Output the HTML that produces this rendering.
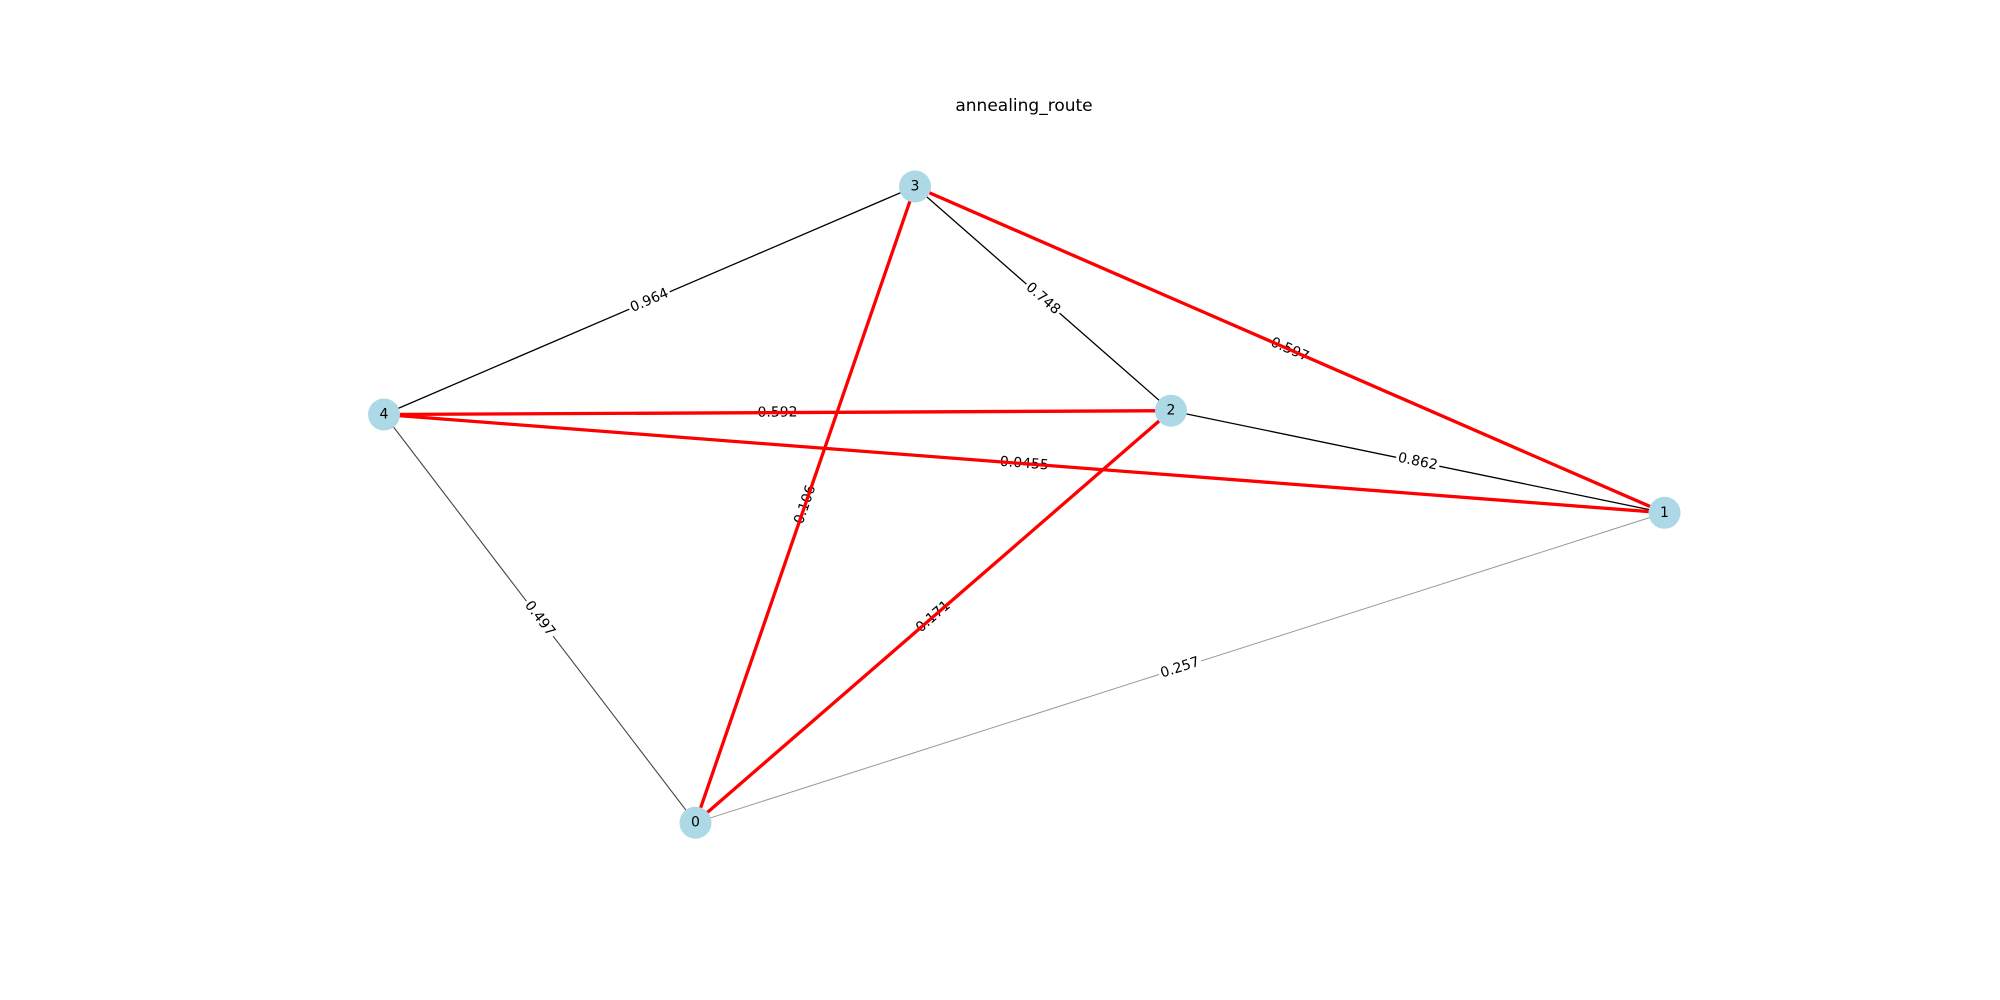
<!DOCTYPE html>
<html><head><meta charset="utf-8"><style>
html,body{margin:0;padding:0;background:#fff;}
svg{display:block;font-family:"DejaVu Sans","Liberation Sans",sans-serif;}
.l{font-size:14px;fill:#000;text-anchor:middle;dominant-baseline:central;}
</style></head><body>
<svg width="2000" height="1000" viewBox="0 0 2000 1000">
<rect width="2000" height="1000" fill="#fff"/>
<text x="1024" y="106" font-size="17" text-anchor="middle" dominant-baseline="central">annealing_route</text>
<!-- thin edges -->
<line x1="915" y1="186.5" x2="384" y2="414.5" stroke="#000" stroke-width="1.3"/>
<line x1="915" y1="186.5" x2="1171" y2="410.7" stroke="#000" stroke-width="1.3"/>
<line x1="1171" y1="410.7" x2="1664.5" y2="512.8" stroke="#000" stroke-width="1.3"/>
<line x1="384" y1="414.5" x2="695.5" y2="822.7" stroke="#444" stroke-width="1.1"/>
<line x1="695.5" y1="822.7" x2="1664.5" y2="512.8" stroke="#999" stroke-width="1"/>
<!-- labels with bg for thin edges -->
<g>
<g transform="translate(649.5,300.5) rotate(-23.2)"><rect x="-22" y="-9" width="44" height="18" fill="#fff"/><text class="l">0.964</text></g>
<g transform="translate(1043,298.6) rotate(41.2)"><rect x="-22" y="-9" width="44" height="18" fill="#fff"/><text class="l">0.748</text></g>
<g transform="translate(1417.75,461.75) rotate(11.69)"><rect x="-22" y="-9" width="44" height="18" fill="#fff"/><text class="l">0.862</text></g>
<g transform="translate(539.75,618.6) rotate(52.65)"><rect x="-22" y="-9" width="44" height="18" fill="#fff"/><text class="l">0.497</text></g>
<g transform="translate(1180,667.75) rotate(-17.74)"><rect x="-22" y="-9" width="44" height="18" fill="#fff"/><text class="l">0.257</text></g>
<g transform="translate(1289.75,349.65) rotate(23.5)"><rect x="-22" y="-9" width="44" height="18" fill="#fff"/><text class="l">0.597</text></g>
<g transform="translate(777.5,412.6) rotate(-0.28)"><rect x="-22" y="-9" width="44" height="18" fill="#fff"/><text class="l">0.592</text></g>
<g transform="translate(1024.25,463.65) rotate(4.39)"><rect x="-26" y="-9" width="52" height="18" fill="#fff"/><text class="l">0.0455</text></g>
<g transform="translate(805.25,504.6) rotate(-70.9)"><rect x="-22" y="-9" width="44" height="18" fill="#fff"/><text class="l">0.106</text></g>
<g transform="translate(933.25,616.7) rotate(-40.9)"><rect x="-22" y="-9" width="44" height="18" fill="#fff"/><text class="l">0.171</text></g>
</g>
<!-- red edges -->
<g stroke="#ff0000" stroke-width="3.3">
<line x1="915" y1="186.5" x2="1664.5" y2="512.8"/>
<line x1="384" y1="414.5" x2="1171" y2="410.7"/>
<line x1="384" y1="414.5" x2="1664.5" y2="512.8"/>
<line x1="915" y1="186.5" x2="695.5" y2="822.7"/>
<line x1="1171" y1="410.7" x2="695.5" y2="822.7"/>
</g>
<!-- nodes -->
<g fill="#add8e6">
<circle cx="695.5" cy="822.7" r="16"/>
<circle cx="1664.5" cy="512.8" r="16"/>
<circle cx="1171" cy="410.7" r="16"/>
<circle cx="915" cy="186.5" r="16"/>
<circle cx="384" cy="414.5" r="16"/>
</g>
<g class="l" font-size="15">
<text class="l" x="695.5" y="822.7">0</text>
<text class="l" x="1664.5" y="512.8">1</text>
<text class="l" x="1171" y="410.7">2</text>
<text class="l" x="915" y="186.5">3</text>
<text class="l" x="384" y="414.5">4</text>
</g>
</svg>
</body></html>
